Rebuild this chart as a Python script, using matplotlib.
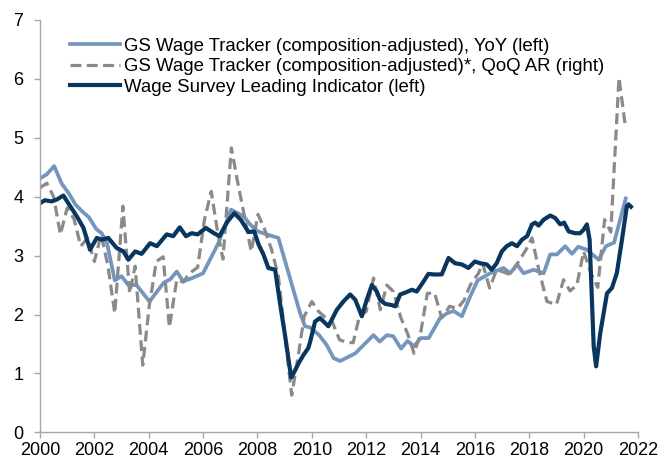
import matplotlib
matplotlib.use("Agg")
import matplotlib.pyplot as plt

plt.rcParams['font.family'] = ['Liberation Sans', 'DejaVu Sans']

# GS Wage Tracker (composition-adjusted), YoY (left)
yoy_t = [2000.0, 2000.25, 2000.52, 2000.8, 2001.04, 2001.3, 2001.53, 2001.8, 2002.07, 2002.27,
         2002.47, 2002.75, 2003.0, 2003.25, 2003.55, 2004.03, 2004.55, 2004.8, 2005.03, 2005.27,
         2005.6, 2006.0, 2006.56, 2007.03, 2007.48, 2007.75, 2008.02, 2008.34, 2008.77, 2009.57,
         2009.75, 2009.94, 2010.27, 2010.55, 2010.8, 2011.04, 2011.6, 2011.9, 2012.27, 2012.5,
         2012.76, 2013.0, 2013.28, 2013.52, 2013.77, 2014.0, 2014.3, 2014.72, 2014.97, 2015.21,
         2015.52, 2015.83, 2016.1, 2016.56, 2017.05, 2017.3, 2017.55, 2017.79, 2018.16, 2018.53,
         2018.77, 2019.02, 2019.32, 2019.57, 2019.8, 2020.12, 2020.55, 2020.82, 2021.12, 2021.55]
yoy_v = [4.31, 4.38, 4.52, 4.22, 4.07, 3.87, 3.76, 3.65, 3.45, 3.38,
         3.20, 2.58, 2.65, 2.50, 2.50, 2.22, 2.54, 2.60, 2.73, 2.56,
         2.62, 2.70, 3.21, 3.78, 3.67, 3.52, 3.41, 3.36, 3.30, 2.02,
         1.80, 1.78, 1.65, 1.48, 1.26, 1.21, 1.34, 1.48, 1.65, 1.54,
         1.65, 1.63, 1.42, 1.55, 1.46, 1.60, 1.60, 1.94, 2.02, 2.06,
         1.97, 2.31, 2.58, 2.70, 2.79, 2.70, 2.85, 2.70, 2.76, 2.70,
         3.02, 3.02, 3.16, 3.03, 3.15, 3.10, 2.93, 3.16, 3.22, 3.97]

# GS Wage Tracker (composition-adjusted)*, QoQ AR (right)
qoq_t = [2000.0, 2000.25, 2000.5, 2000.75, 2001.0, 2001.25, 2001.5, 2001.75, 2002.0, 2002.25,
         2002.5, 2002.75, 2003.05, 2003.3, 2003.5, 2003.78, 2004.02, 2004.28, 2004.53, 2004.76,
         2005.03, 2005.27, 2005.5, 2005.8, 2006.05, 2006.3, 2006.52, 2006.73, 2007.04, 2007.25,
         2007.5, 2007.77, 2008.02, 2008.27, 2008.52, 2008.77, 2009.0, 2009.26, 2009.5, 2009.72,
         2010.0, 2010.25, 2010.5, 2010.75, 2011.02, 2011.28, 2011.52, 2011.75, 2012.0, 2012.27,
         2012.52, 2012.76, 2013.0, 2013.28, 2013.52, 2013.76, 2014.0, 2014.25, 2014.52, 2014.78,
         2015.07, 2015.35, 2015.6, 2015.83, 2016.13, 2016.28, 2016.54, 2016.8, 2017.05, 2017.3,
         2017.65, 2017.88, 2018.1, 2018.35, 2018.65, 2019.0, 2019.26, 2019.5, 2019.75, 2020.0,
         2020.27, 2020.52, 2020.77, 2021.0, 2021.3, 2021.52]
qoq_v = [4.15, 4.23, 4.00, 3.36, 3.81, 3.62, 3.16, 3.30, 2.90, 3.36,
         2.82, 2.02, 3.84, 2.36, 2.82, 1.14, 2.15, 2.90, 2.98, 1.78,
         2.59, 2.55, 2.70, 2.80, 3.61, 4.09, 3.44, 2.94, 4.83, 4.30,
         3.72, 3.07, 3.70, 3.44, 3.10, 2.65, 1.70, 0.63, 1.30, 1.97,
         2.22, 2.05, 1.95, 1.88, 1.57, 1.53, 1.52, 1.97, 2.05, 2.62,
         2.08, 2.50, 2.39, 1.94, 1.68, 1.34, 1.68, 2.36, 2.36, 1.94,
         2.14, 2.10, 2.24, 2.50, 2.70, 2.87, 2.45, 2.76, 2.72, 2.68,
         2.93, 3.10, 3.30, 2.76, 2.22, 2.17, 2.59, 2.40, 2.50, 3.07,
         2.70, 2.46, 3.61, 3.40, 6.02, 5.25]

# Wage Survey Leading Indicator (left)
lead_t = [2000.0, 2000.18, 2000.43, 2000.61, 2000.86, 2001.04, 2001.35, 2001.6, 2001.84, 2002.09,
          2002.27, 2002.51, 2002.82, 2003.07, 2003.25, 2003.5, 2003.74, 2004.05, 2004.3, 2004.66,
          2004.9, 2005.14, 2005.37, 2005.58, 2005.8, 2006.1, 2006.4, 2006.6, 2006.9, 2007.15,
          2007.4, 2007.67, 2007.88, 2008.04, 2008.22, 2008.4, 2008.65, 2008.83, 2009.02, 2009.24,
          2009.35, 2009.51, 2009.69, 2009.87, 2009.94, 2010.12, 2010.3, 2010.61, 2010.92, 2011.16,
          2011.41, 2011.6, 2011.84, 2012.02, 2012.21, 2012.39, 2012.51, 2012.7, 2012.94, 2013.07,
          2013.25, 2013.43, 2013.68, 2013.86, 2014.11, 2014.29, 2014.48, 2014.78, 2015.03, 2015.27,
          2015.52, 2015.76, 2016.0, 2016.19, 2016.44, 2016.62, 2016.8, 2016.99, 2017.17, 2017.36,
          2017.55, 2017.73, 2017.92, 2018.1, 2018.22, 2018.34, 2018.53, 2018.77, 2018.95, 2019.14,
          2019.28, 2019.45, 2019.69, 2019.87, 2020.0, 2020.12, 2020.22, 2020.37, 2020.46, 2020.61,
          2020.86, 2021.04, 2021.22, 2021.41, 2021.59, 2021.65, 2021.74]
lead_v = [3.89, 3.94, 3.92, 3.95, 4.02, 3.89, 3.67, 3.47, 3.10, 3.30,
          3.27, 3.30, 3.13, 3.07, 2.93, 3.07, 3.03, 3.21, 3.16, 3.36,
          3.33, 3.48, 3.33, 3.38, 3.36, 3.47, 3.38, 3.33, 3.58, 3.72,
          3.60, 3.40, 3.41, 3.19, 3.02, 2.79, 2.76, 2.19, 1.63, 0.93,
          1.02, 1.17, 1.31, 1.43, 1.54, 1.88, 1.94, 1.80, 2.08, 2.22,
          2.34, 2.25, 1.97, 2.25, 2.50, 2.39, 2.25, 2.18, 2.16, 2.14,
          2.34, 2.37, 2.42, 2.39, 2.56, 2.69, 2.68, 2.68, 2.96, 2.87,
          2.85, 2.79, 2.90, 2.87, 2.85, 2.76, 2.87, 3.07, 3.16, 3.21,
          3.16, 3.27, 3.33, 3.53, 3.56, 3.51, 3.61, 3.68, 3.64, 3.53,
          3.56, 3.41, 3.38, 3.38, 3.44, 3.53, 3.27, 1.46, 1.12, 1.68,
          2.36, 2.45, 2.70, 3.27, 3.84, 3.87, 3.83]

x_ticks = list(range(2000, 2023, 2))
y_ticks = list(range(0, 8))

labels = ["GS Wage Tracker (composition-adjusted), YoY (left)",
          "GS Wage Tracker (composition-adjusted)*, QoQ AR (right)",
          "Wage Survey Leading Indicator (left)"]

fig = plt.figure(figsize=(6.61, 4.66), dpi=100)
ax = fig.add_axes([40/661, 1 - 432.3/466, 598/661, 412.3/466])

ax.plot(yoy_t, yoy_v, color='#7495BE', lw=2.7, label=labels[0], solid_joinstyle='round')
ax.plot(qoq_t, qoq_v, color='#8A8A8A', lw=2.3, ls=(0, (3.4, 1.7)), label=labels[1])
ax.plot(lead_t, lead_v, color='#08365F', lw=3.0, label=labels[2], solid_joinstyle='round')

ax.set_xlim(2000, 2022)
ax.set_ylim(0, 7)
ax.set_xticks(x_ticks)
ax.set_xticklabels([str(t) for t in x_ticks])
ax.set_yticks(y_ticks)
ax.set_yticklabels([str(t) for t in y_ticks])

for s in ['top', 'right']:
    ax.spines[s].set_visible(False)
for s in ['left', 'bottom']:
    ax.spines[s].set_color('#A6A6A6')
    ax.spines[s].set_linewidth(1.0)
ax.tick_params(axis='both', colors='#A6A6A6', labelcolor='black', labelsize=13,
               length=4, width=1.0, direction='out')
ax.tick_params(axis='x', pad=3)
ax.tick_params(axis='y', pad=8)

leg = ax.legend(loc='upper left', bbox_to_anchor=(0.05, 0.957), frameon=False, fontsize=13.4,
                handlelength=2.7, handletextpad=0.2, labelspacing=0.18, borderaxespad=0.0,
                borderpad=0.0)

fig.savefig('out.png', dpi=100)
